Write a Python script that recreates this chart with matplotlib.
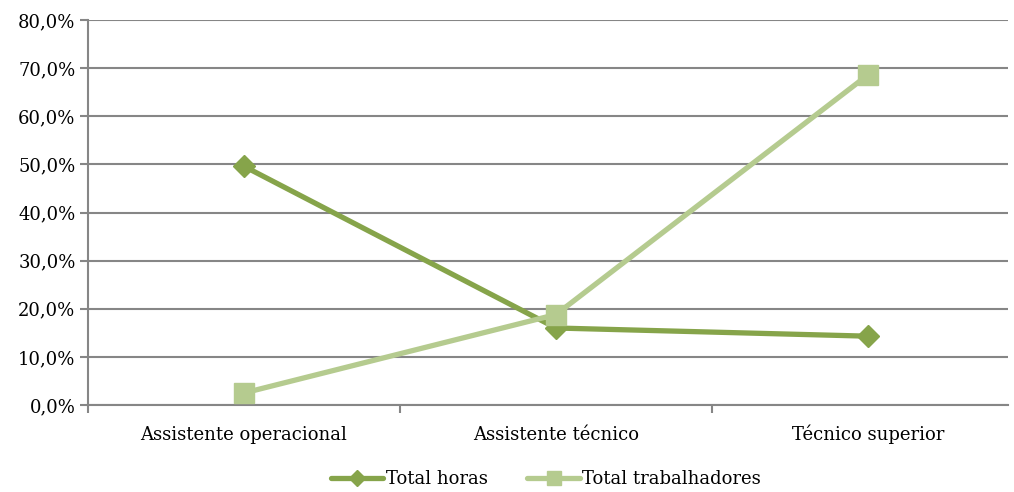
import matplotlib
matplotlib.use("Agg")
import matplotlib.pyplot as plt
from matplotlib.ticker import FixedLocator, FuncFormatter

plt.rcParams['font.family'] = ['DejaVu Serif']

categories = ["Assistente operacional", "Assistente técnico", "Técnico superior"]
total_horas = [49.6, 16.0, 14.3]
total_trabalhadores = [2.5, 18.8, 68.6]

c_dark = '#86a44a'
c_light = '#b5cb8f'
grid_c = '#868686'

fig = plt.figure(figsize=(10.14, 4.92), dpi=100)
ax = fig.add_axes([88/1014, 1 - 405/492, (1008 - 88)/1014, (405 - 20)/492])

x = list(range(len(categories)))
ax.plot(x, total_horas, color=c_dark, lw=3.8, marker='D', ms=11,
        label='Total horas', solid_capstyle='round', zorder=3)
ax.plot(x, total_trabalhadores, color=c_light, lw=3.8, marker='s', ms=14,
        label='Total trabalhadores', solid_capstyle='round', zorder=3)

ax.set_ylim(0, 80)
ax.set_xlim(-0.5, 2.5 - 16/312)
ax.set_yticks(range(0, 81, 10))
ax.yaxis.set_major_formatter(FuncFormatter(lambda v, p: f"{v:.1f}%".replace('.', ',')))
ax.set_xticks(x)
ax.set_xticklabels(categories, va='baseline')
ax.xaxis.set_minor_locator(FixedLocator([-0.5, 0.5, 1.5, 2.5]))
ax.tick_params(axis='x', which='major', length=0, pad=25, labelsize=13)
ax.tick_params(axis='x', which='minor', length=6, width=1.5, color=grid_c)
ax.tick_params(axis='y', length=6, width=1.5, color=grid_c, labelsize=13, pad=3)

ax.grid(axis='y', color=grid_c, lw=1.5)
ax.set_axisbelow(True)
for s in ['top', 'right']:
    ax.spines[s].set_visible(False)
for s in ['left', 'bottom']:
    ax.spines[s].set_color(grid_c)
    ax.spines[s].set_linewidth(1.5)

ax.legend(loc='center', bbox_to_anchor=(546/1014, 1 - 479/492), bbox_transform=fig.transFigure,
          ncol=2, frameon=False, fontsize=13, handlelength=2.9, columnspacing=2.2,
          handletextpad=0.15, markerscale=0.7)

fig.savefig('out.png', dpi=100)
